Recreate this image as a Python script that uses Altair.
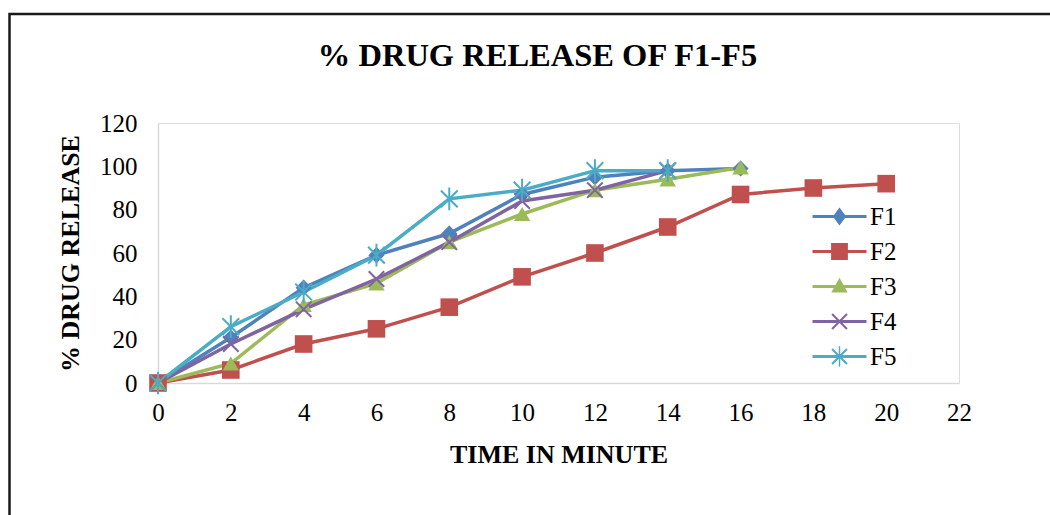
import altair as alt
import pandas as pd

# ---- data ----
series_names = ["F1", "F2", "F3", "F4", "F5"]
time_f1 = [0, 2, 4, 6, 8, 10, 12, 14, 16]
f1 = [0, 21, 44, 59, 69, 87, 95, 98, 99]
time_f2 = [0, 2, 4, 6, 8, 10, 12, 14, 16, 18, 20]
f2 = [0, 6, 18, 25, 35, 49, 60, 72, 87, 90, 92]
time_f3 = [0, 2, 4, 6, 8, 10, 12, 14, 16]
f3 = [0, 9, 36, 46, 65, 78, 89, 94, 99.5]
time_f4 = [0, 2, 4, 6, 8, 10, 12, 14]
f4 = [0, 18, 34, 48, 65, 84, 89, 98]
time_f5 = [0, 2, 4, 6, 8, 10, 12, 14]
f5 = [0, 26, 42, 59, 85, 89, 98, 98]
x_ticks = [0, 2, 4, 6, 8, 10, 12, 14, 16, 18, 20, 22]
y_ticks = [0, 20, 40, 60, 80, 100, 120]

colors = ["#4F81BD", "#C0504D", "#9BBB59", "#8064A2", "#4BACC6"]

rows = []
for name, ts, vs in zip(series_names, [time_f1, time_f2, time_f3, time_f4, time_f5], [f1, f2, f3, f4, f5]):
    for t, v in zip(ts, vs):
        rows.append({"time": t, "release": v, "series": name})
df = pd.DataFrame(rows)

FONT = "Liberation Serif"

x_enc = alt.X("time:Q", scale=alt.Scale(domain=[0, 22], nice=False),
              axis=alt.Axis(values=x_ticks, title="TIME IN MINUTE", labelFont=FONT, labelFontSize=25,
                            labelColor="black", labelPadding=17, ticks=False, grid=False,
                            domainColor="#d9d9d9", domainWidth=1.5, titleFont=FONT, titleFontSize=26,
                            titleFontWeight="bold", titleColor="black", titlePadding=16, labelFlush=False))
y_enc = alt.Y("release:Q", scale=alt.Scale(domain=[0, 120], nice=False),
              axis=alt.Axis(values=y_ticks, title="% DRUG RELEASE", labelFont=FONT, labelFontSize=25,
                            labelColor="black", labelPadding=21, ticks=False, grid=False,
                            domainColor="#d9d9d9", domainWidth=1.5, titleFont=FONT, titleFontSize=26,
                            titleFontWeight="bold", titleColor="black", titlePadding=16))

marker_specs = {
    "F1": dict(shape="diamond", filled=True, size=260),
    "F2": dict(shape="square", filled=True, size=310),
    "F3": dict(shape="triangle-up", filled=True, size=270),
    "F4": dict(shape="M-1,-1L1,1M-1,1L1,-1", filled=False, size=240, strokeWidth=2),
    "F5": dict(shape="M-1,-1L1,1M-1,1L1,-1M0,-1.35L0,1.35", filled=False, size=280, strokeWidth=2),
}

# legend symbols: a line segment with the marker, in symbol units (1 unit = 12 px)
line_part = "M-2.25,-0.125H2.25V0.125H-2.25Z"
xcross = ("M-0.56,-0.68L0.68,0.56L0.56,0.68L-0.68,-0.56Z"
          "M0.56,-0.68L0.68,-0.56L-0.56,0.68L-0.68,0.56Z")
legend_paths = [
    line_part + "M0,-0.75L0.55,0L0,0.75L-0.55,0Z",
    line_part + "M-0.7,-0.7H0.7V0.7H-0.7Z",
    line_part + "M0,-0.72L0.68,0.5L-0.68,0.5Z",
    line_part + xcross,
    line_part + xcross + "M-0.06,-0.85H0.06V0.85H-0.06Z",
]
legend_props = dict(title=None, orient="none", legendX=669, legendY=81,
                    labelFont=FONT, labelFontSize=25, labelColor="black",
                    labelOffset=18, symbolSize=576, symbolStrokeWidth=0,
                    rowPadding=9, padding=0)
legend_layer = alt.Chart(df).mark_point(filled=True, size=0, opacity=1).encode(
    x=x_enc, y=y_enc,
    color=alt.Color("series:N", scale=alt.Scale(domain=series_names, range=colors),
                    legend=alt.Legend(**legend_props)),
    shape=alt.Shape("series:N", scale=alt.Scale(domain=series_names, range=legend_paths),
                    legend=alt.Legend(**legend_props)),
)

series_layers = []
for name, col in zip(series_names, colors):
    base = alt.Chart(df).transform_filter(alt.datum.series == name)
    series_layers.append(
        base.mark_line(strokeWidth=3.5, color=col).encode(x="time:Q", y="release:Q", order="time:Q")
    )
for name, col in zip(series_names, colors):
    base = alt.Chart(df).transform_filter(alt.datum.series == name)
    series_layers.append(
        base.mark_point(opacity=1, color=col, **marker_specs[name]).encode(x="time:Q", y="release:Q")
    )

frame = alt.Chart(pd.DataFrame({"a": [0]})).mark_rect(
    fillOpacity=0, stroke="#1a1a1a", strokeWidth=2.5
).encode(x=alt.value(-148.5), x2=alt.value(960), y=alt.value(-109), y2=alt.value(500))

chart = alt.layer(frame, legend_layer, *series_layers).properties(
    width=801, height=260,
    autosize=alt.AutoSizeParams(type="none"),
    padding={"left": 158, "top": 123, "right": 91, "bottom": 132},
    title=alt.TitleParams("% DRUG RELEASE OF F1-F5", font=FONT, fontSize=32.5, fontWeight="bold",
                          color="black", anchor="middle", dx=-21, offset=-60),
).configure_view(stroke=None).configure(background="white")

chart.save("out.html", embed_options={"renderer": "svg", "actions": False})
